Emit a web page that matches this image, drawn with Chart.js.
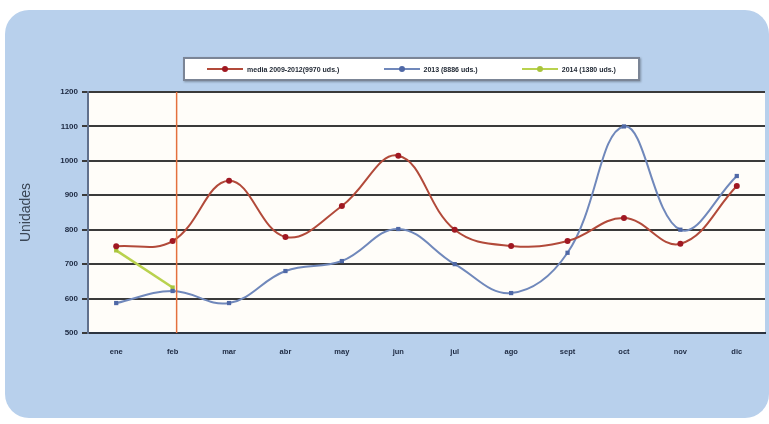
<!DOCTYPE html>
<html>
<head>
<meta charset="utf-8">
<script src="https://cdn.jsdelivr.net/npm/chart.js@4"></script>
<style>
    body { margin: 0; background: #ffffff; width: 769px; height: 424px; overflow: hidden; position: relative; font-family: "Liberation Sans", Arial, sans-serif; }
    .panel { position: absolute; left: 5px; top: 10px; width: 764px; height: 408px; border-radius: 24px; background: #b8d0ec; }
    .wrap { position: absolute; left: 0; top: 0; width: 769px; height: 424px; }
    .legend { position: absolute; left: 183px; top: 57px; width: 453px; height: 20px; background: #ffffff; border: 2px solid #7b8596; box-shadow: 1px 1px 2px rgba(0,0,0,0.3); display: flex; align-items: center; justify-content: space-around; font-size: 7px; font-weight: bold; color: #1c2430; }
    .item { display: flex; align-items: center; }
    .swatch { position: relative; width: 36px; height: 2px; margin-right: 4px; }
    .swatch span { position: absolute; left: 15px; top: -2px; width: 6px; height: 6px; border-radius: 50%; }
</style>
</head>
<body>
<div class="panel"></div>
<div class="wrap"><canvas id="chart" width="769" height="424"></canvas></div>
<div class="legend" id="legend"></div>
<script>
// months
const labels = ['ene', 'feb', 'mar', 'abr', 'may', 'jun', 'jul', 'ago', 'sept', 'oct', 'nov', 'dic'];
const media = [752, 767, 942, 779, 869, 1015, 800, 753, 767, 834, 759, 927];
const y2013 = [587, 622, 587, 680, 709, 802, 700, 616, 733, 1100, 800, 956];
const y2014 = [740, 632, null, null, null, null, null, null, null, null, null, null];
const yTicks = [500, 600, 700, 800, 900, 1000, 1100, 1200];

const seriesNames = ['media 2009-2012(9970 uds.)', '2013 (8886 uds.)', '2014 (1380 uds.)'];
const lineColors = ['#b24a3a', '#7088bb', '#b9d24e'];
const pointColors = ['#a01822', '#4f68a6', '#a9c43c'];

// html legend
const legend = document.getElementById('legend');
seriesNames.forEach((name, i) => {
    const item = document.createElement('div');
    item.className = 'item';
    item.innerHTML = '<div class="swatch" style="background:' + lineColors[i] + '"><span style="background:' + pointColors[i] + '"></span></div>' + name;
    legend.appendChild(item);
});

// white plot area + red marker line at feb
const plotBg = {
    id: 'plotBg',
    beforeDraw(chart) {
        const { ctx, chartArea: a } = chart;
        ctx.save();
        ctx.fillStyle = '#fffdf9';
        ctx.fillRect(a.left, a.top, a.right - a.left, a.bottom - a.top);
        ctx.restore();
    },
    afterDatasetsDraw(chart) {
        const { ctx, chartArea: a } = chart;
        const x = chart.scales.x.getPixelForValue(1) + 4;
        ctx.save();
        ctx.strokeStyle = '#e4703e';
        ctx.lineWidth = 1.5;
        ctx.beginPath();
        ctx.moveTo(x, a.top);
        ctx.lineTo(x, a.bottom);
        ctx.stroke();
        ctx.restore();
    }
};

new Chart(document.getElementById('chart'), {
    type: 'line',
    data: {
        labels: labels,
        datasets: [
            {
                label: seriesNames[0], data: media,
                borderColor: lineColors[0], backgroundColor: pointColors[0],
                borderWidth: 2, tension: 0.4, pointRadius: 3, pointBorderWidth: 0
            },
            {
                label: seriesNames[1], data: y2013,
                borderColor: lineColors[1], backgroundColor: pointColors[1],
                borderWidth: 2, tension: 0.4, pointRadius: 3, pointStyle: 'rect', pointBorderWidth: 0
            },
            {
                label: seriesNames[2], data: y2014,
                borderColor: lineColors[2], backgroundColor: pointColors[2],
                borderWidth: 2.5, tension: 0, pointRadius: 3, pointStyle: 'rect', pointBorderWidth: 0
            }
        ]
    },
    options: {
        responsive: false,
        animation: false,
        layout: { padding: { left: 18, right: 4, top: 92, bottom: 62 } },
        plugins: { legend: { display: false }, tooltip: { enabled: false } },
        scales: {
            x: {
                offset: true,
                grid: { display: false, drawOnChartArea: false },
                border: { color: '#2c3440', width: 2 },
                ticks: { color: '#1c2840', font: { size: 7.5, weight: 'bold', family: 'Liberation Sans' }, padding: 6 }
            },
            y: {
                min: 500, max: 1200,
                afterBuildTicks: (axis) => { axis.ticks = yTicks.map(v => ({ value: v })); },
                grid: { color: '#3a3a3a', lineWidth: 2, tickLength: 6, tickColor: '#3a3a3a' },
                border: { color: '#60708c', width: 2 },
                ticks: {
                    color: '#1c2840', font: { size: 8, weight: 'bold', family: 'Liberation Sans' }, padding: 4,
                    callback: (v) => String(v)
                },
                title: { display: true, text: 'Unidades', color: '#3a4656', font: { size: 14, family: 'Liberation Sans' }, padding: 0 },
                afterFit: (axis) => { axis.width = 70; }
            }
        }
    },
    plugins: [plotBg]
});
</script>
</body>
</html>
